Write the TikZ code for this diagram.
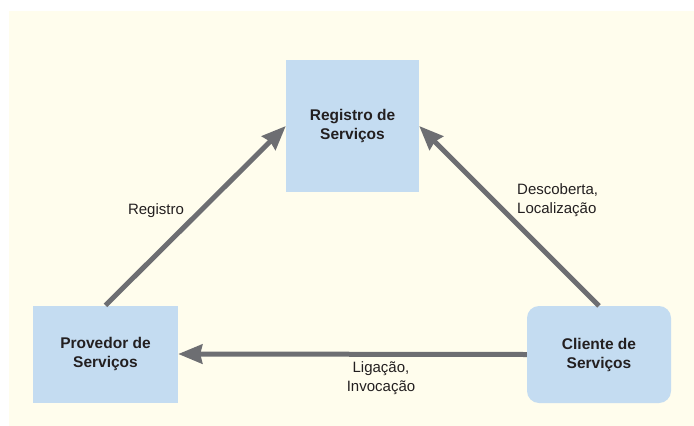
\documentclass[tikz,border=0pt]{standalone}
\usepackage{fontspec}
\setmainfont{Liberation Sans}
\usetikzlibrary{arrows.meta}
\definecolor{bgyellow}{HTML}{FFFDED}
\definecolor{boxblue}{HTML}{C4DCF1}
\definecolor{arrowgray}{HTML}{6D6E72}
\definecolor{textdark}{HTML}{231F20}
\tikzset{
  box/.style={fill=boxblue, draw=none, inner sep=0pt, align=center,
    text=textdark, font=\fontsize{15.5}{19}\selectfont\bfseries},
  conn/.style={draw=arrowgray, line width=5pt,
    -{Triangle[length=24pt,width=19pt,inset=2pt]}},
  lbl/.style={text=textdark, inner sep=0pt, font=\fontsize{15}{19}\selectfont}
}
\begin{document}
\begin{tikzpicture}[x=1pt,y=-1pt]
\useasboundingbox (0,0) rectangle (694,426);
\fill[bgyellow] (9,11) rectangle (694,426);
\node[box, minimum width=133pt, minimum height=132pt] (reg) at (352.5,126) {Registro de\\Serviços};
\node[box, minimum width=145pt, minimum height=97pt] (prov) at (105.5,354) {Provedor de\\Serviços};
\node[box, rounded corners=12pt, minimum width=144pt, minimum height=97pt] (cli) at (599,354.5) {Cliente de\\Serviços};
\draw[conn] (prov.north) -- (reg.west);
\draw[conn] (cli.north) -- (reg.east);
\draw[conn] (cli.west) -- (prov.east);
\node[lbl] (lreg) at (156,211) {Registro};
\node[lbl, align=left, anchor=west] (ldesc) at (517,200) {Descoberta,\\Localização};
\node[lbl, align=center] (llig) at (381,378) {Ligação,\\Invocação};
\end{tikzpicture}
\end{document}
